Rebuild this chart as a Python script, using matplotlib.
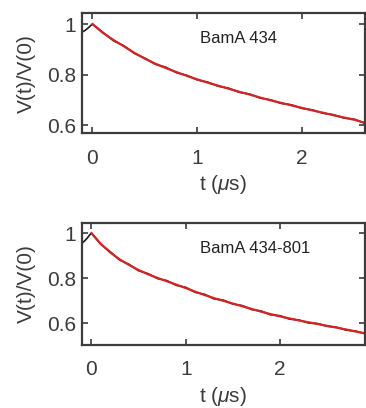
import matplotlib
matplotlib.use('Agg')
from matplotlib import pyplot as plt
import numpy as np

# Tijden en waarden voor BamA 434 (boven)
t_fit_1 = [0.0, 0.1, 0.2, 0.3, 0.4, 0.5, 0.6, 0.7, 0.8, 0.9, 1.0, 1.1, 1.2,
           1.3, 1.4, 1.5, 1.6, 1.7, 1.8, 1.9, 2.0, 2.1, 2.2, 2.3, 2.4, 2.5,
           2.6]
v_fit_1 = [1.000, 0.965, 0.937, 0.912, 0.886, 0.863, 0.843, 0.826, 0.810,
           0.795, 0.781, 0.768, 0.756, 0.744, 0.732, 0.721, 0.709, 0.698,
           0.688, 0.678, 0.668, 0.658, 0.649, 0.639, 0.630, 0.621, 0.609]
t_data_1 = [-0.10, -0.07, -0.04, -0.02, 0.0] + t_fit_1[1:]
v_data_1 = [0.968, 0.975, 0.985, 0.993, 1.000,
            0.967, 0.934, 0.914, 0.884, 0.865, 0.841, 0.829, 0.808, 0.797,
            0.779, 0.770, 0.754, 0.746, 0.730, 0.723, 0.707, 0.700, 0.686,
            0.680, 0.666, 0.660, 0.647, 0.641, 0.628, 0.623, 0.607]

# Tijden en waarden voor BamA 434-801 (onder)
t_fit_2 = [0.0, 0.1, 0.2, 0.3, 0.4, 0.5, 0.6, 0.7, 0.8, 0.9, 1.0, 1.1, 1.2,
           1.3, 1.4, 1.5, 1.6, 1.7, 1.8, 1.9, 2.0, 2.1, 2.2, 2.3, 2.4, 2.5,
           2.6, 2.7, 2.8, 2.9]
v_fit_2 = [1.000, 0.952, 0.914, 0.883, 0.858, 0.836, 0.817, 0.801, 0.786,
           0.771, 0.756, 0.740, 0.725, 0.711, 0.699, 0.687, 0.675, 0.663,
           0.651, 0.640, 0.630, 0.621, 0.612, 0.604, 0.596, 0.588, 0.580,
           0.572, 0.563, 0.555]
t_data_2 = [-0.10, -0.07, -0.04, -0.02, 0.0] + t_fit_2[1:]
v_data_2 = [0.955, 0.966, 0.980, 0.991, 1.000,
            0.950, 0.917, 0.880, 0.861, 0.833, 0.820, 0.798, 0.789, 0.768,
            0.759, 0.737, 0.728, 0.708, 0.702, 0.685, 0.678, 0.660, 0.654,
            0.637, 0.633, 0.618, 0.614, 0.601, 0.598, 0.586, 0.582, 0.569,
            0.565, 0.553]

labels = ['BamA 434', 'BamA 434-801']

plt.rcParams['font.family'] = ['Liberation Sans', 'DejaVu Sans']
plt.rcParams['mathtext.fontset'] = 'custom'
plt.rcParams['mathtext.rm'] = 'Liberation Sans'
plt.rcParams['mathtext.it'] = 'Liberation Sans:italic'

grijs = '#3c3c3c'
rood = '#d42424'

fig = plt.figure(figsize=(3.66, 4.08), dpi=100)
ax1 = fig.add_axes([0.224, 0.673, 0.773, 0.294])
ax2 = fig.add_axes([0.224, 0.155, 0.773, 0.298])

panelen = [
    (ax1, t_data_1, v_data_1, t_fit_1, v_fit_1, labels[0], (-0.1, 2.6),
     (0.567, 1.042)),
    (ax2, t_data_2, v_data_2, t_fit_2, v_fit_2, labels[1], (-0.1, 2.9),
     (0.504, 1.044)),
]

for ax, td, vd, tf, vf, naam, xl, yl in panelen:
    ax.plot(td, vd, color='#1a1a1a', lw=1.2)
    ax.plot(tf, vf, color=rood, lw=1.6)
    ax.set_xlim(*xl)
    ax.set_ylim(*yl)
    ax.set_xticks([0, 1, 2])
    ax.set_yticks([0.6, 0.8, 1.0])
    ax.set_yticklabels(['0.6', '0.8', '1'])
    ax.tick_params(direction='in', top=True, right=True, length=4,
                   width=1.2, color=grijs, labelcolor=grijs, labelsize=15)
    ax.tick_params(axis='x', pad=11)
    ax.tick_params(axis='y', pad=4)
    for sp in ax.spines.values():
        sp.set_color(grijs)
        sp.set_linewidth(1.6)
    ax.set_xlabel(r't ($\mu$s)', fontsize=15, color=grijs, labelpad=4)
    ax.set_ylabel('V(t)/V(0)', fontsize=15, color=grijs, labelpad=8)
    ax.text(0.416, 0.79, naam, transform=ax.transAxes, fontsize=12,
            color='#222222', va='center', ha='left')

fig.savefig('out.png', dpi=100)
